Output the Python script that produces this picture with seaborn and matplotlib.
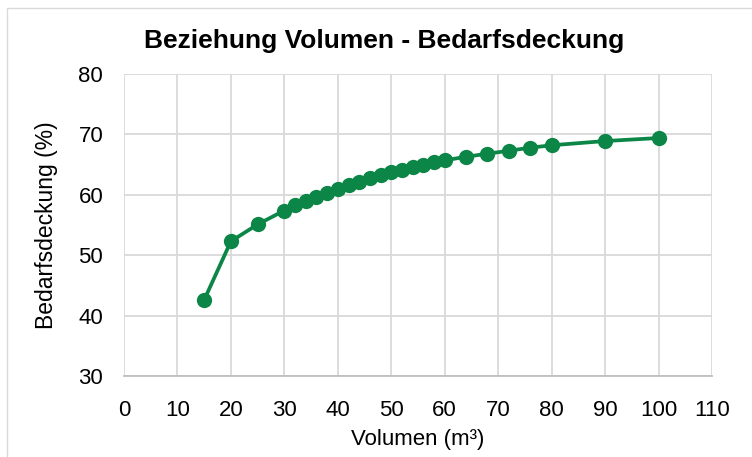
import matplotlib
matplotlib.use("Agg")
import matplotlib.pyplot as plt
import seaborn as sns
import pandas as pd
from matplotlib.patches import Rectangle

volumen = [15, 20, 25, 30, 32, 34, 36, 38, 40, 42, 44, 46, 48, 50, 52, 54, 56, 58, 60,
           64, 68, 72, 76, 80, 90, 100]
bedarfsdeckung = [42.6, 52.3, 55.1, 57.4, 58.3, 59.0, 59.7, 60.3, 60.9, 61.6, 62.1, 62.7,
                  63.2, 63.7, 64.1, 64.6, 65.0, 65.4, 65.7, 66.3, 66.8, 67.3, 67.8, 68.2,
                  68.9, 69.4]
x_ticks = [0, 10, 20, 30, 40, 50, 60, 70, 80, 90, 100, 110]
y_ticks = [30, 40, 50, 60, 70, 80]

title = "Beziehung Volumen - Bedarfsdeckung"
x_label = "Volumen (m³)"
y_label = "Bedarfsdeckung (%)"

sns.set_style("white")
plt.rcParams['font.family'] = ['Liberation Sans', 'DejaVu Sans']
plt.rcParams['text.color'] = 'black'
plt.rcParams['axes.labelcolor'] = 'black'

df = pd.DataFrame({"Volumen": volumen, "Bedarfsdeckung": bedarfsdeckung})

fig = plt.figure(figsize=(7.52, 4.57), dpi=100)
fig.patches.append(Rectangle((7 / 752, -0.05), 2.0, 1 - 8 / 457 + 0.05,
                             transform=fig.transFigure, fill=False,
                             edgecolor="#d9d9d9", linewidth=1.0))
ax = fig.add_axes([124 / 752, 1 - 376 / 457, (712 - 124) / 752, (376 - 74) / 457])

green = "#0B8647"
sns.lineplot(data=df, x="Volumen", y="Bedarfsdeckung", ax=ax, color=green,
             linewidth=2.7, marker="o", markersize=11, markeredgewidth=0,
             zorder=3)

ax.set_xlim(0, 110)
ax.set_ylim(30, 80)
ax.set_xticks(x_ticks)
ax.set_yticks(y_ticks)
ax.grid(True, color="#d9d9d9", linewidth=1.3)
for s in ["top", "right", "left"]:
    ax.spines[s].set_visible(False)
ax.spines["bottom"].set_color("#bfbfbf")
ax.spines["bottom"].set_linewidth(1.3)
ax.tick_params(axis="both", length=0, labelsize=16, colors="#000000")
ax.tick_params(axis="x", pad=17)
ax.tick_params(axis="y", pad=15)

ax.set_xlabel(x_label, fontsize=16, va="center", ha="center")
ax.xaxis.set_label_coords((418 - 124) / 588, (376 - 440) / 302)
ax.set_ylabel(y_label, fontsize=16.5, va="center", ha="center")
ax.yaxis.set_label_coords((47 - 124) / 588, 0.5)
fig.text(384 / 752, 1 - 41 / 457, title, ha="center", va="center",
         fontsize=19, fontweight="bold", color="black")

fig.savefig("out.png", dpi=100)
